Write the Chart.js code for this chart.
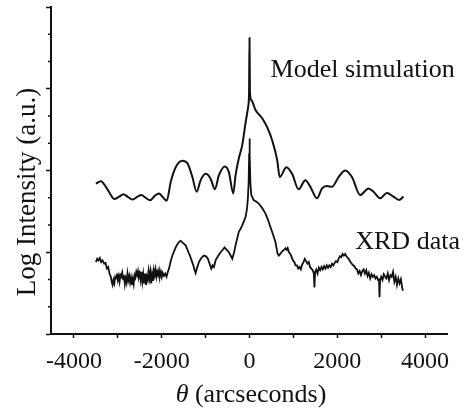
<!DOCTYPE html>
<html>
<head>
<meta charset="utf-8">
<script src="https://cdn.jsdelivr.net/npm/chart.js@4.4.1/dist/chart.umd.min.js"></script>
<style>
    html, body { margin: 0; padding: 0; background: #fff; }
    #wrap { width: 466px; height: 411px; }
</style>
</head>
<body>
<div id="wrap"><canvas id="xrdChart" width="466" height="411"></canvas></div>
<script>
// theta (arcseconds) and log intensity of the simulated curve
const modelTheta = [-3500, -3386, -3273, -3159, -3084, -2970, -2870, -2780, -2666, -2552, -2461, -2364, -2266, -2159, -2061, -1984, -1886,
    -1795, -1682, -1530, -1416, -1302, -1205, -1114, -1000, -886, -789, -698, -561, -470, -370, -318, -243, -166, -91, -30, -10, 0,
    10, 45, 136, 289, 402, 516, 630, 689, 841, 970, 1120, 1273, 1386, 1539, 1652, 1766, 1880, 2030, 2182, 2334, 2523, 2711, 2825,
    2977, 3130, 3280, 3409, 3507]
const modelLog = [1.84, 1.87, 1.80, 1.70, 1.65, 1.68, 1.71, 1.68, 1.645, 1.68, 1.70, 1.665, 1.635, 1.69, 1.72, 1.68, 1.63,
    1.86, 2.04, 2.12, 2.09, 1.92, 1.74, 1.88, 1.96, 1.90, 1.77, 1.94, 2.05, 1.98, 1.72, 1.94, 2.15, 2.31, 2.58, 2.78, 2.95, 3.62,
    2.95, 2.86, 2.74, 2.64, 2.53, 2.37, 2.13, 1.92, 2.04, 1.96, 1.77, 1.88, 1.80, 1.66, 1.78, 1.81, 1.80, 1.92, 2.00, 1.92, 1.70, 1.78, 1.74,
    1.66, 1.725, 1.68, 1.64, 1.68]

// measured XRD curve
const xrdTheta = [-3500, -3470, -3440, -3410, -3380, -3350, -3310, -3280, -3250, -3220, -3190, -3160, -3140, -3120, -3100, -3080,
    -3060, -3040, -3020, -3000, -2980, -2960, -2940, -2920, -2900, -2880, -2860, -2840, -2820, -2800, -2780, -2760, -2740, -2720,
    -2700, -2680, -2660, -2640, -2620, -2600, -2580, -2560, -2540, -2520, -2500, -2480, -2460, -2440, -2420, -2400, -2380, -2360,
    -2340, -2320, -2300, -2280, -2260, -2240, -2220, -2200, -2180, -2160, -2140, -2120, -2100, -2080, -2060, -2040, -2020, -2000,
    -1980, -1950, -1920, -1890, -1860, -1834, -1800, -1757, -1720, -1682, -1640, -1600, -1568, -1530, -1490, -1455, -1420, -1390,
    -1357, -1320, -1280, -1250, -1227, -1200, -1152, -1100, -1039, -990, -948, -910, -870, -840, -810, -773, -720, -659, -610, -568,
    -520, -470, -430, -393, -350, -318, -280, -243, -200, -166, -120, -91, -60, -39, -20, -8, 0, 8, 20, 40, 61, 98, 150, 211, 290,
    364, 420, 477, 540, 591, 640, 670, 700, 730, 760, 790, 820, 850, 870, 900, 930, 960, 990, 1020, 1050, 1080, 1110, 1140, 1170,
    1200, 1230, 1260, 1290, 1320, 1350, 1380, 1410, 1440, 1465, 1480, 1495, 1520, 1550, 1580, 1610, 1640, 1670, 1700, 1730, 1760,
    1790, 1820, 1850, 1880, 1910, 1940, 1970, 2000, 2030, 2060, 2090, 2120, 2150, 2180, 2210, 2240, 2270, 2300, 2330, 2360, 2390,
    2420, 2450, 2480, 2510, 2540, 2570, 2600, 2630, 2660, 2690, 2720, 2750, 2780, 2810, 2840, 2870, 2900, 2930, 2950, 2962, 2975,
    3000, 3030, 3060, 3090, 3120, 3150, 3180, 3210, 3240, 3270, 3300, 3330, 3360, 3390, 3420, 3450, 3480, 3500]
const xrdLog = [0.88, 0.92, 0.90, 0.93, 0.88, 0.90, 0.86, 0.87, 0.80, 0.82, 0.74, 0.70, 0.64, 0.60, 0.66, 0.62,
    0.70, 0.68, 0.74, 0.66, 0.71, 0.64, 0.72, 0.70, 0.75, 0.67, 0.72, 0.61, 0.68, 0.63, 0.74, 0.66, 0.71, 0.63,
    0.69, 0.60, 0.67, 0.61, 0.72, 0.69, 0.76, 0.72, 0.77, 0.70, 0.74, 0.66, 0.76, 0.64, 0.73, 0.62, 0.74, 0.60,
    0.70, 0.66, 0.77, 0.68, 0.76, 0.62, 0.73, 0.65, 0.78, 0.72, 0.79, 0.70, 0.76, 0.72, 0.78, 0.71, 0.76, 0.70,
    0.75, 0.71, 0.74, 0.70, 0.76, 0.80, 0.88, 0.96, 1.01, 1.06, 1.10, 1.13, 1.14, 1.12, 1.10, 1.085, 1.04, 1.00,
    0.96, 0.90, 0.84, 0.78, 0.745, 0.80, 0.88, 0.93, 0.96, 0.95, 0.92, 0.86, 0.80, 0.84, 0.82, 0.90, 0.95, 1.00, 1.03, 1.06,
    1.03, 1.00, 0.96, 0.92, 1.00, 1.085, 1.17, 1.25, 1.29, 1.33, 1.39, 1.43, 1.52, 1.64, 1.85, 2.20, 2.39, 2.20, 1.85, 1.70, 1.676, 1.636, 1.62, 1.596, 1.54,
    1.473, 1.40, 1.309, 1.21, 1.125, 0.98, 0.96, 0.98, 1.00, 1.02, 1.03, 1.05, 1.03, 1.05, 1.00, 0.98, 0.94, 0.90, 0.88, 0.84, 0.84, 0.80, 0.82, 0.79,
    0.85, 0.88, 0.92, 0.89, 0.86, 0.88, 0.82, 0.80, 0.78, 0.74, 0.57, 0.76, 0.79, 0.74, 0.81, 0.78, 0.82, 0.79, 0.83, 0.80, 0.84,
    0.81, 0.84, 0.82, 0.86, 0.84, 0.87, 0.89, 0.88, 0.92, 0.95, 0.94, 0.98, 0.96, 0.98, 0.95, 0.93, 0.91, 0.88, 0.86, 0.84, 0.83,
    0.80, 0.79, 0.74, 0.77, 0.72, 0.77, 0.79, 0.74, 0.78, 0.71, 0.75, 0.68, 0.73, 0.70, 0.72, 0.68, 0.70, 0.66, 0.68, 0.45, 0.66,
    0.70, 0.66, 0.73, 0.70, 0.68, 0.74, 0.66, 0.72, 0.70, 0.76, 0.64, 0.70, 0.60, 0.68, 0.62, 0.67, 0.56, 0.53]

const xTicks = [-4000, -3000, -2000, -1000, 0, 1000, 2000, 3000, 4000]
const xTickLabels = [-4000, -2000, 0, 2000, 4000]
const yMajorTicks = [0, 1, 2, 3, 4]

const serif = "'Liberation Serif', 'DejaVu Serif', 'Times New Roman', serif"

function toPoints(xs, ys) {
    return xs.map((x, i) => ({ x: x, y: ys[i] }))
}

// minor ticks on the y axis and the text labels
const extrasPlugin = {
    id: "extras",
    afterDraw(chart) {
        const ctx = chart.ctx
        const xs = chart.scales.x
        const ys = chart.scales.y
        const left = chart.chartArea.left

        ctx.save()
        ctx.strokeStyle = "#111"
        ctx.lineWidth = 1.5
        for (let major = 0; major < 4; major++) {
            for (let k = 1; k < 3; k++) {
                const py = ys.getPixelForValue(major + k / 3)
                ctx.beginPath()
                ctx.moveTo(left - 3, py)
                ctx.lineTo(left + 1, py)
                ctx.stroke()
            }
        }

        ctx.fillStyle = "#111"
        ctx.textBaseline = "middle"

        ctx.font = "26px " + serif
        ctx.textAlign = "left"
        ctx.fillText("Model simulation", xs.getPixelForValue(480), ys.getPixelForValue(3.23))
        ctx.fillText("XRD data", xs.getPixelForValue(2409), ys.getPixelForValue(1.12))

        // x axis title with italic theta
        const cx = (chart.chartArea.left + chart.chartArea.right) / 2 + 2
        const ty = 395
        ctx.font = "italic 26px " + serif
        const wTheta = ctx.measureText("θ").width
        ctx.font = "26px " + serif
        const wRest = ctx.measureText(" (arcseconds)").width
        const startX = cx - (wTheta + wRest) / 2
        ctx.font = "italic 26px " + serif
        ctx.fillText("θ", startX, ty)
        ctx.font = "26px " + serif
        ctx.fillText(" (arcseconds)", startX + wTheta, ty)

        // y axis title
        ctx.font = "27px " + serif
        ctx.translate(28, 192)
        ctx.rotate(-Math.PI / 2)
        ctx.textAlign = "center"
        ctx.fillText("Log Intensity (a.u.)", 0, 0)
        ctx.restore()
    }
}

const ctx = document.getElementById("xrdChart")

new Chart(ctx, {
    type: "line",
    data: {
        datasets: [
            {
                label: "Model simulation",
                data: toPoints(modelTheta, modelLog),
                borderColor: "#111",
                borderWidth: 2,
                pointRadius: 0,
                cubicInterpolationMode: "monotone",
                fill: false
            },
            {
                label: "XRD data",
                data: toPoints(xrdTheta, xrdLog),
                borderColor: "#111",
                borderWidth: 1.8,
                pointRadius: 0,
                tension: 0,
                fill: false
            }
        ]
    },
    options: {
        responsive: false,
        animation: false,
        layout: {
            padding: { top: 7, right: 19, left: 0, bottom: 0 }
        },
        plugins: {
            legend: { display: false },
            tooltip: { enabled: false }
        },
        scales: {
            x: {
                type: "linear",
                min: -4523,
                max: 4500,
                border: { display: true, color: "#111", width: 2 },
                grid: { drawOnChartArea: false, drawTicks: true, tickLength: 4, color: "#111", tickWidth: 1.5 },
                afterBuildTicks(scale) { scale.ticks = xTicks.map(v => ({ value: v })) },
                ticks: {
                    maxRotation: 0,
                    autoSkip: false,
                    padding: 9,
                    color: "#111",
                    font: { family: serif, size: 24 },
                    callback: (v) => xTickLabels.indexOf(Math.round(v)) >= 0 ? String(Math.round(v)) : ""
                },
                afterFit(scale) { scale.height = 77 }
            },
            y: {
                type: "linear",
                min: 0,
                max: 4,
                border: { display: true, color: "#111", width: 2 },
                grid: { drawOnChartArea: false, drawTicks: true, tickLength: 5, color: "#111", tickWidth: 1.5 },
                afterBuildTicks(scale) { scale.ticks = yMajorTicks.map(v => ({ value: v })) },
                ticks: { display: false },
                afterFit(scale) { scale.width = 51 }
            }
        }
    },
    plugins: [extrasPlugin]
})
</script>
</body>
</html>
